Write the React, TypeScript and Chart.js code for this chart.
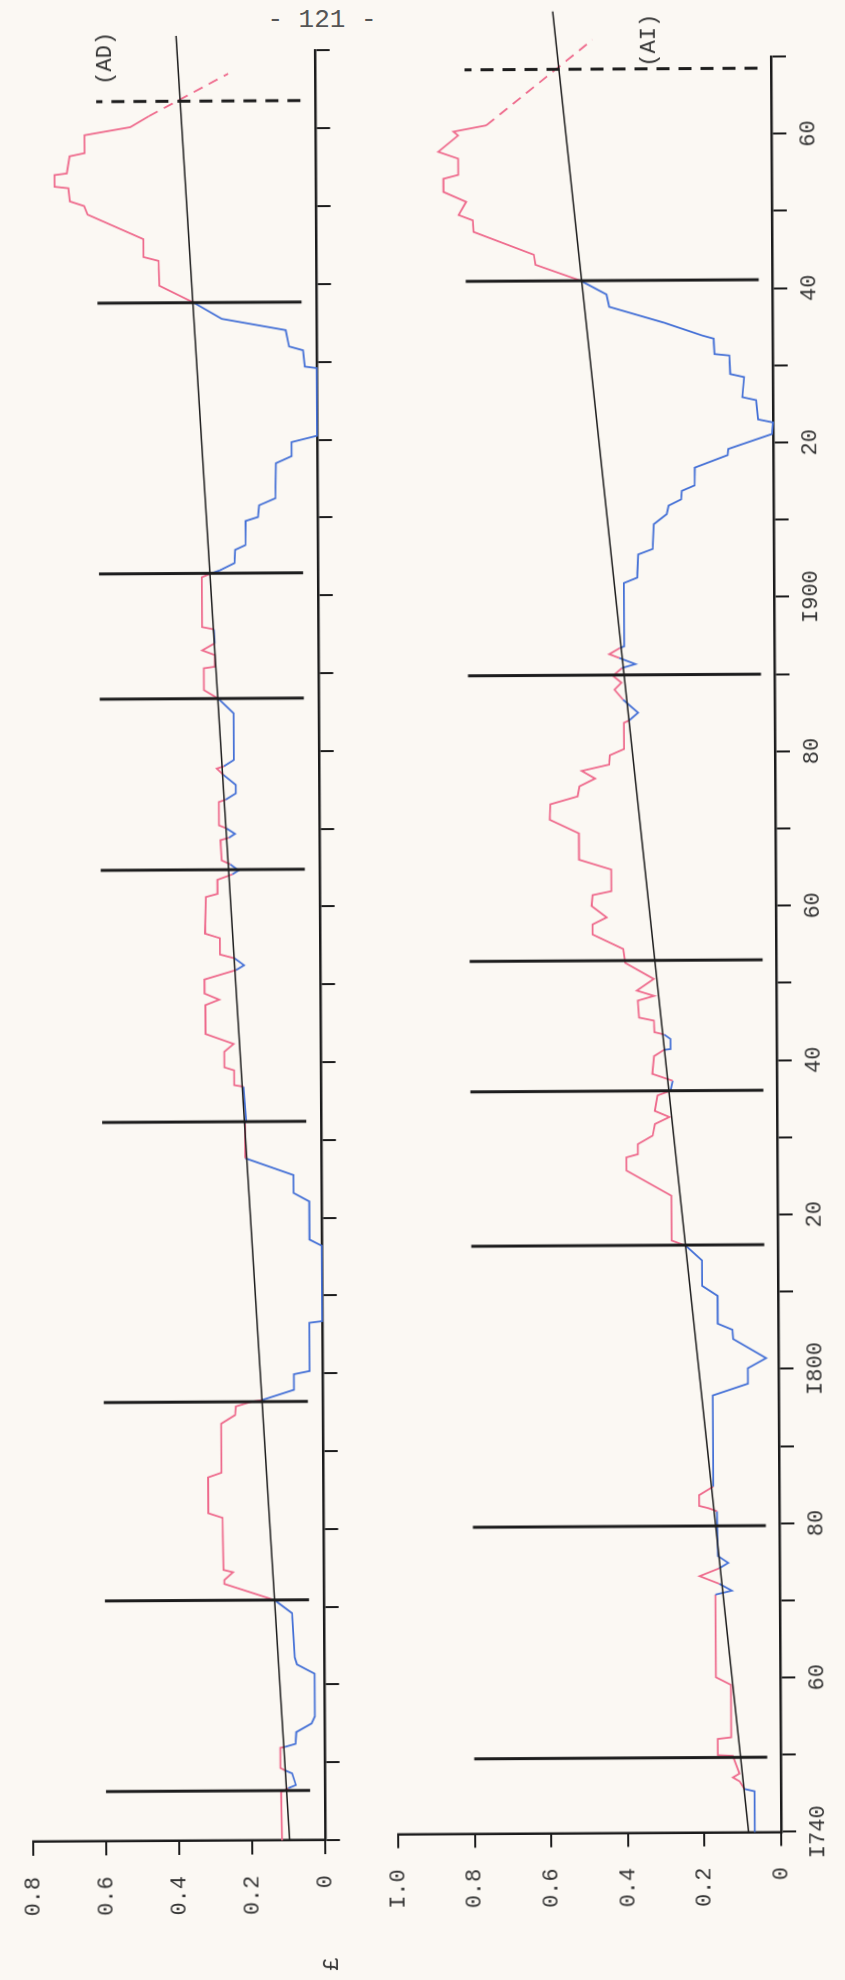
import React, { useEffect, useRef } from 'react';
import { Chart, registerables } from 'chart.js';

Chart.register(...registerables);

// ---- colours ----
const PINK = '#ee6a8c';
const BLUE = '#4470d6';
const INK = '#1c1c1c';
const LABEL = '#333333';
const PAPER = '#fbf8f3';
const FONT = '"Liberation Mono", "DejaVu Sans Mono", monospace';

// ---- panel (AD): £ series ----
const adYears = [
  1740.0, 1746.2, 1746.7, 1747.1, 1748.6, 1749.0, 1749.3, 1751.9, 1752.0, 1752.4,
  1753.9, 1755.0, 1755.9, 1761.4, 1762.6, 1763.5, 1769.2, 1770.9, 1773.0, 1773.5,
  1774.5, 1774.8, 1781.5, 1782.1, 1786.7, 1787.3, 1793.6, 1794.7, 1795.8, 1796.4,
  1796.6, 1797.9, 1799.9, 1800.3, 1806.5, 1806.7, 1816.4, 1817.2, 1822.1, 1823.2,
  1825.5, 1827.5, 1827.7, 1832.2, 1832.6, 1836.9, 1837.1, 1839.0, 1839.4, 1841.4,
  1842.4, 1843.7, 1847.4, 1848.1, 1848.9, 1850.7, 1851.9, 1852.5, 1853.4, 1853.9,
  1856.0, 1856.6, 1861.3, 1861.7, 1863.5, 1864.2, 1864.7, 1865.5, 1866.0, 1868.6,
  1868.9, 1869.4, 1870.1, 1870.5, 1873.5, 1873.8, 1874.6, 1875.7, 1877.0, 1877.8,
  1878.1, 1878.9, 1884.9, 1886.8, 1887.9, 1890.7, 1890.9, 1892.4, 1893.0, 1893.9,
  1895.7, 1896.0, 1902.4, 1902.9, 1903.3, 1904.2, 1905.9, 1906.5, 1909.6, 1910.1,
  1911.6, 1912.5, 1917.0, 1917.9, 1919.7, 1920.5, 1929.2, 1929.4, 1931.5, 1932.0,
  1934.1, 1935.6, 1937.7, 1939.9, 1943.1, 1943.6, 1945.9, 1949.1, 1950.2, 1950.8,
  1952.5, 1952.7, 1954.2, 1954.4, 1956.6, 1957.0, 1959.3, 1960.3, 1961.7,
];
const adValues = [
  0.118, 0.120, 0.100, 0.079, 0.089, 0.109, 0.121, 0.121, 0.109, 0.079,
  0.077, 0.035, 0.026, 0.026, 0.074, 0.080, 0.087, 0.135, 0.272, 0.272,
  0.248, 0.274, 0.276, 0.315, 0.315, 0.278, 0.278, 0.240, 0.238, 0.195,
  0.166, 0.078, 0.078, 0.035, 0.035, 0.000, 0.000, 0.033, 0.033, 0.076,
  0.076, 0.196, 0.208, 0.208, 0.205, 0.212, 0.237, 0.237, 0.264, 0.264,
  0.238, 0.315, 0.315, 0.277, 0.317, 0.317, 0.230, 0.208, 0.234, 0.274,
  0.274, 0.315, 0.312, 0.280, 0.280, 0.239, 0.222, 0.245, 0.268, 0.271,
  0.248, 0.231, 0.254, 0.275, 0.275, 0.256, 0.228, 0.228, 0.262, 0.280,
  0.260, 0.233, 0.233, 0.275, 0.314, 0.314, 0.284, 0.284, 0.318, 0.284,
  0.286, 0.318, 0.318, 0.292, 0.267, 0.228, 0.226, 0.198, 0.197, 0.163,
  0.160, 0.115, 0.113, 0.070, 0.070, 0.000, 0.000, 0.032, 0.037, 0.075,
  0.084, 0.259, 0.336, 0.430, 0.432, 0.473, 0.473, 0.626, 0.635, 0.674,
  0.678, 0.716, 0.716, 0.682, 0.674, 0.633, 0.633, 0.507, 0.456,
];
const adTrendYears = [1740, 1972];
const adTrendValues = [0.097, 0.38];
const adTailYears = [1961.7, 1967.1];
const adTailValues = [0.456, 0.238];
const adMarkYears = [1746.4, 1770.9, 1796.4, 1832.4, 1864.8, 1886.8, 1902.9, 1937.7];
const adMarkSpan = [0.04, 0.6];
const adEndYear = 1963.6;
const adValueLabels = ['0', '0.2', '0.4', '0.6', '0.8'];

// ---- panel (AI) ----
const aiYears = [
  1740.0, 1745.3, 1745.6, 1746.6, 1747.1, 1747.6, 1749.9, 1750.0, 1752.1, 1752.3,
  1759.1, 1760.1, 1770.8, 1771.3, 1772.2, 1773.2, 1774.2, 1774.9, 1775.8, 1781.6,
  1782.0, 1782.3, 1783.7, 1784.8, 1796.6, 1798.1, 1800.1, 1801.4, 1803.9, 1805.1,
  1805.9, 1809.5, 1810.8, 1814.1, 1816.0, 1816.7, 1822.5, 1825.8, 1827.5, 1827.9,
  1829.2, 1830.3, 1831.8, 1832.7, 1833.5, 1835.5, 1836.1, 1837.4, 1838.3, 1840.6,
  1841.4, 1841.5, 1842.8, 1843.4, 1843.7, 1845.2, 1845.6, 1847.8, 1848.4, 1849.1,
  1850.6, 1852.7, 1854.5, 1856.4, 1857.7, 1858.6, 1860.1, 1861.5, 1862.0, 1864.8,
  1866.1, 1869.5, 1871.3, 1873.3, 1874.3, 1875.6, 1876.6, 1877.6, 1878.4, 1879.6,
  1880.4, 1883.8, 1884.1, 1885.1, 1886.8, 1888.1, 1889.0, 1889.9, 1890.9, 1891.4,
  1892.2, 1892.7, 1893.5, 1893.7, 1901.9, 1902.6, 1905.6, 1906.3, 1909.5, 1910.8,
  1911.9, 1912.7, 1913.8, 1914.5, 1916.8, 1918.4, 1919.2, 1921.1, 1922.6, 1923.0,
  1925.5, 1925.9, 1928.5, 1928.9, 1931.3, 1931.5, 1933.5, 1933.9, 1935.6, 1937.7,
  1939.3, 1941.1, 1943.2, 1944.5, 1947.5, 1949.0, 1949.7, 1951.4, 1952.7, 1954.4,
  1954.9, 1957.0, 1957.9, 1960.0, 1960.5, 1961.3,
];
const aiValues = [
  0.069, 0.069, 0.095, 0.108, 0.125, 0.108, 0.125, 0.164, 0.164, 0.129,
  0.129, 0.168, 0.168, 0.125, 0.158, 0.209, 0.158, 0.134, 0.161, 0.163,
  0.185, 0.209, 0.209, 0.172, 0.172, 0.080, 0.080, 0.032, 0.118, 0.120,
  0.158, 0.158, 0.198, 0.198, 0.240, 0.277, 0.277, 0.394, 0.394, 0.364,
  0.364, 0.325, 0.319, 0.281, 0.319, 0.312, 0.278, 0.272, 0.325, 0.320,
  0.294, 0.277, 0.277, 0.294, 0.319, 0.320, 0.359, 0.362, 0.319, 0.364,
  0.320, 0.394, 0.399, 0.479, 0.479, 0.442, 0.481, 0.478, 0.429, 0.429,
  0.513, 0.513, 0.589, 0.587, 0.516, 0.511, 0.470, 0.505, 0.433, 0.431,
  0.394, 0.394, 0.380, 0.357, 0.396, 0.418, 0.400, 0.422, 0.398, 0.363,
  0.405, 0.431, 0.403, 0.392, 0.392, 0.357, 0.354, 0.316, 0.313, 0.279,
  0.274, 0.241, 0.239, 0.206, 0.205, 0.119, 0.117, 0.003, 0.000, 0.039,
  0.044, 0.080, 0.075, 0.111, 0.113, 0.152, 0.154, 0.183, 0.283, 0.426,
  0.433, 0.500, 0.618, 0.622, 0.779, 0.781, 0.818, 0.798, 0.857, 0.857,
  0.818, 0.818, 0.870, 0.818, 0.830, 0.744,
];
const aiTrendYears = [1740, 1976];
const aiTrendValues = [0.085, 0.569];
const aiTailYears = [1961.3, 1972.3];
const aiTailValues = [0.744, 0.466];
const aiMarkYears = [1749.7, 1779.7, 1816.1, 1836.1, 1853.0, 1890.0, 1941.1];
const aiMarkSpan = [0.035, 0.8];
const aiEndYear = 1968.5;
const aiValueLabels = ['0', '0.2', '0.4', '0.6', '0.8', 'I.0'];

// ---- shared year axis ----
const yearLabelValues = [1740, 1760, 1780, 1800, 1820, 1840, 1860, 1880, 1900, 1920, 1940, 1960];
const yearLabelText = ['I740', '60', '80', 'I800', '20', '40', '60', '80', 'I900', '20', '40', '60'];

type Series = {
  years: number[];
  values: number[];
  trendYears: number[];
  trendValues: number[];
  tailYears: number[];
  tailValues: number[];
  markYears: number[];
  markSpan: number[];
  endYear: number;
  valueMax: number;
  valueLabels: string[];
  yearLabels: boolean;
};

type Frame = {
  top: number;
  height: number;
  plotLeft: number;
  plotRight: number;
  plotTop: number;
  plotBottom: number;
};

const SHEET_W = 1980;

function Panel({ series, frame }: { series: Series; frame: Frame }) {
  const ref = useRef<HTMLCanvasElement | null>(null);

  useEffect(() => {
    const canvas = ref.current;
    if (!canvas) return;
    const s = series;
    const trendAt = (x: number) =>
      s.trendValues[0] +
      ((s.trendValues[1] - s.trendValues[0]) * (x - s.trendYears[0])) / (s.trendYears[1] - s.trendYears[0]);

    const common = { pointRadius: 0, pointHoverRadius: 0, fill: false, tension: 0, clip: false as const };
    const datasets: any[] = [];

    // turning-point markers across the band
    s.markYears.forEach((yr) => {
      datasets.push({
        ...common,
        data: [
          { x: yr, y: s.markSpan[0] },
          { x: yr, y: s.markSpan[1] },
        ],
        borderColor: INK,
        borderWidth: 3,
        order: 0,
      });
    });
    datasets.push({
      ...common,
      data: [
        { x: s.endYear, y: s.markSpan[0] },
        { x: s.endYear, y: s.markSpan[1] },
      ],
      borderColor: INK,
      borderWidth: 3,
      borderDash: [13, 9],
      order: 0,
    });
    // linear trend
    datasets.push({
      ...common,
      data: s.trendYears.map((x, i) => ({ x, y: s.trendValues[i] })),
      borderColor: INK,
      borderWidth: 1.5,
      order: 1,
    });
    // projected continuation
    datasets.push({
      ...common,
      data: s.tailYears.map((x, i) => ({ x, y: s.tailValues[i] })),
      borderColor: PINK,
      borderWidth: 1.8,
      borderDash: [10, 7],
      order: 2,
    });
    // observed series: pink above the trend, blue below it
    datasets.push({
      ...common,
      data: s.years.map((x, i) => ({ x, y: s.values[i] })),
      borderColor: PINK,
      borderWidth: 1.8,
      order: 2,
      segment: {
        borderColor: (ctx: any) => {
          const mx = (ctx.p0.parsed.x + ctx.p1.parsed.x) / 2;
          const my = (ctx.p0.parsed.y + ctx.p1.parsed.y) / 2;
          return my >= trendAt(mx) ? PINK : BLUE;
        },
      },
    });

    const tickFont = { family: FONT, size: 22 };

    const chart = new Chart(canvas, {
      type: 'line',
      data: { datasets },
      options: {
        responsive: false,
        animation: false,
        devicePixelRatio: 1,
        events: [],
        layout: {
          padding: { left: 0, top: frame.plotTop, right: SHEET_W - frame.plotRight, bottom: 0 },
        },
        plugins: { legend: { display: false }, tooltip: { enabled: false }, title: { display: false } },
        scales: {
          x: {
            type: 'linear',
            min: 1740,
            max: 1970,
            ticks: {
              stepSize: 10,
              autoSkip: false,
              maxRotation: 0,
              minRotation: 0,
              padding: 9,
              color: LABEL,
              font: tickFont,
              callback: (v: any) => {
                if (!s.yearLabels) return '';
                const k = yearLabelValues.indexOf(Math.round(Number(v)));
                return k >= 0 ? yearLabelText[k] : '';
              },
            },
            grid: { drawOnChartArea: false, drawTicks: true, tickLength: 15, color: INK, lineWidth: 2 },
            border: { display: true, color: INK, width: 2.5 },
            afterFit: (scale: any) => {
              scale.height = frame.height - frame.plotBottom;
            },
          },
          y: {
            type: 'linear',
            min: 0,
            max: s.valueMax,
            ticks: {
              stepSize: 0.2,
              padding: 21,
              color: LABEL,
              font: tickFont,
              callback: (_v: any, i: number) => s.valueLabels[i] ?? '',
            },
            grid: { drawOnChartArea: false, drawTicks: true, tickLength: 14, color: INK, lineWidth: 2 },
            border: { display: true, color: INK, width: 2.5 },
            afterFit: (scale: any) => {
              scale.width = frame.plotLeft;
            },
          },
        },
      } as any,
    });

    return () => chart.destroy();
  }, [series, frame]);

  return (
    <canvas
      ref={ref}
      width={SHEET_W}
      height={frame.height}
      style={{ position: 'absolute', left: 0, top: frame.top, width: SHEET_W, height: frame.height }}
    />
  );
}

const adSeries: Series = {
  years: adYears,
  values: adValues,
  trendYears: adTrendYears,
  trendValues: adTrendValues,
  tailYears: adTailYears,
  tailValues: adTailValues,
  markYears: adMarkYears,
  markSpan: adMarkSpan,
  endYear: adEndYear,
  valueMax: 0.8,
  valueLabels: adValueLabels,
  yearLabels: false,
};

const aiSeries: Series = {
  years: aiYears,
  values: aiValues,
  trendYears: aiTrendYears,
  trendValues: aiTrendValues,
  tailYears: aiTailYears,
  tailValues: aiTailValues,
  markYears: aiMarkYears,
  markSpan: aiMarkSpan,
  endYear: aiEndYear,
  valueMax: 1.0,
  valueLabels: aiValueLabels,
  yearLabels: true,
};

// Sheet laid out landscape, then turned a quarter turn onto the page.
const adFrame: Frame = { top: 0, height: 360, plotLeft: 138, plotRight: 1927.5, plotTop: 17, plotBottom: 329 };
const aiFrame: Frame = { top: 360, height: 485, plotLeft: 143.5, plotRight: 1919, plotTop: 39, plotBottom: 422 };

const textStyle: React.CSSProperties = {
  position: 'absolute',
  fontFamily: FONT,
  fontSize: 22,
  lineHeight: '22px',
  color: LABEL,
  whiteSpace: 'nowrap',
  transform: 'translate(-50%, -50%)',
};

export default function App() {
  return (
    <div
      style={{
        position: 'fixed',
        left: 0,
        top: 0,
        width: 845,
        height: 1980,
        overflow: 'hidden',
        background: PAPER,
      }}
    >
      <div
        style={{
          position: 'absolute',
          left: 0,
          top: 7,
          width: 644,
          textAlign: 'center',
          fontFamily: FONT,
          fontSize: 26,
          lineHeight: '26px',
          color: '#555555',
          whiteSpace: 'pre',
        }}
      >
        - 121 -
      </div>
      <div
        style={{
          position: 'absolute',
          left: 0,
          top: 0,
          width: SHEET_W,
          height: 845,
          transformOrigin: '0 0',
          transform: 'translate(0px, 1980px) rotate(-90.33deg)',
        }}
      >
        <Panel series={adSeries} frame={adFrame} />
        <Panel series={aiSeries} frame={aiFrame} />
        <span style={{ ...textStyle, left: 1921, top: 117 }}>(AD)</span>
        <span style={{ ...textStyle, left: 1936, top: 661 }}>(AI)</span>
        <span style={{ ...textStyle, left: 14, top: 333 }}>£</span>
      </div>
    </div>
  );
}
